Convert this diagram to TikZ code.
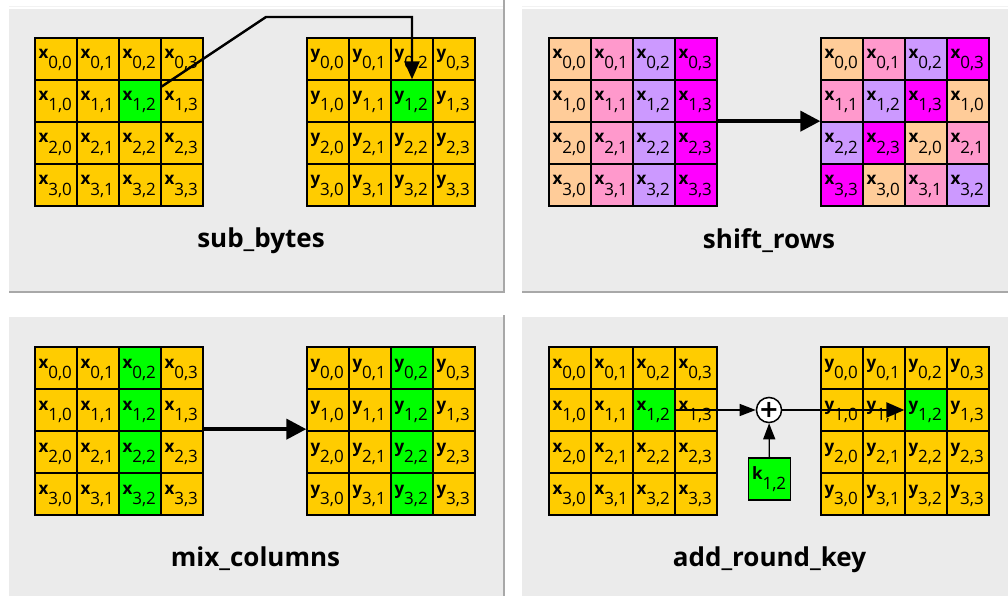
\documentclass[tikz,border=0pt]{standalone}
\usepackage{fontspec}
\setmainfont{Open Sans}
\newfontfamily\symfont{DejaVu Sans}
\usetikzlibrary{arrows.meta}
\definecolor{aesyellow}{HTML}{FFCC00}
\definecolor{aesgreen}{HTML}{00FF00}
\definecolor{sc0}{HTML}{FFCC99}
\definecolor{sc1}{HTML}{FF99CC}
\definecolor{sc2}{HTML}{CC99FF}
\definecolor{sc3}{HTML}{FF00FF}
\definecolor{panelbg}{HTML}{EBEBEB}
\definecolor{panelshadow}{HTML}{A8A8A8}
\definecolor{panelhi}{HTML}{F2F2F2}
\newcommand\celltext[2]{\raisebox{0pt}[0pt][0pt]{\hbox to 35pt{\bfseries #1\raisebox{-10pt}{\mdseries #2}\hfill}}}
\tikzset{
  cell/.style={draw=black, line width=1.3pt, minimum size=42pt, inner sep=0pt, fill=aesyellow,
    font=\fontsize{17}{19}\selectfont},
  paneltitle/.style={anchor=base, inner sep=0pt, font=\fontsize{26}{30}\selectfont\bfseries},
  panelfill/.style={fill=panelbg, draw=none},
  shadowline/.style={draw=panelshadow, line width=2pt},
  hiline/.style={draw=panelhi, line width=1pt},
  thinarrow/.style={draw=black, line width=1.3pt, -{Triangle[length=16pt,width=12pt]}},
  medarrow/.style={draw=black, line width=2.4pt, -{Triangle[length=18pt,width=15pt]}},
  bigarrow/.style={draw=black, line width=4pt, -{Triangle[length=20pt,width=20pt]}},
  xorstyle/.style={circle, draw=black, fill=white, line width=1.5pt, minimum size=25pt, inner sep=0pt,
    font=\fontsize{24}{24}\selectfont\symfont\bfseries},
}
\newcommand\mkgrid[5]{%
  \foreach \r in {0,...,3}{%
    \foreach \c in {0,...,3}{%
      \pgfmathtruncatemacro\hl{((#5==1) && (\r==1) && (\c==2)) || ((#5==2) && (\c==2)) ? 1 : 0}%
      \ifnum\hl=1 \def\cf{aesgreen}\else\def\cf{aesyellow}\fi
      \node[cell,fill=\cf] (#1-\r-\c) at ({#2+42*\c+21},{#3+42*\r+21}) {\celltext{#4}{\r,\c}};
    }%
  }%
}
\begin{document}
\begin{tikzpicture}[x=1pt,y=-1pt]
\useasboundingbox (0,0) rectangle (1008,596);
\fill[white] (0,0) rectangle (1008,596);
% panels
\path[panelfill] (9,9) rectangle (503,291);
\path[panelfill] (522,9) rectangle (1008,291);
\path[panelfill] (9,317) rectangle (503,596);
\path[panelfill] (522,317) rectangle (1008,596);
\path[hiline] (9,6.5) -- (503,6.5);
\path[hiline] (522,6.5) -- (1008,6.5);
\path[shadowline] (504,0) -- (504,293);
\path[shadowline] (9,292) -- (505,292);
\path[shadowline] (522,292) -- (1008,292);
\path[shadowline] (504,315) -- (504,596);

% sub_bytes
\mkgrid{tl-x}{35}{38}{x}{1}
\mkgrid{tl-y}{307}{38}{y}{1}
\coordinate (sbturn) at (266,17);
\draw[medarrow] (tl-x-1-2) -- (sbturn) -| (tl-y-1-2);
\node[paneltitle] (t-sub) at (261,247.5) {sub\_bytes};

% shift_rows
\foreach \r in {0,...,3}{
  \foreach \c in {0,...,3}{
    \node[cell,fill=sc\c] (tr-x-\r-\c) at ({549+42*\c+21},{38+42*\r+21}) {\celltext{x}{\r,\c}};
    \pgfmathtruncatemacro\src{mod(\c+\r,4)}
    \node[cell,fill=sc\src] (tr-y-\r-\c) at ({821+42*\c+21},{38+42*\r+21}) {\celltext{x}{\r,\src}};
  }
}
\draw[bigarrow] ([yshift=1.5pt]tr-x-1-3.south east) -- ([yshift=1.5pt]tr-y-1-0.south west);
\node[paneltitle] (t-shift) at (769,248) {shift\_rows};

% mix_columns
\mkgrid{bl-x}{35}{347}{x}{2}
\mkgrid{bl-y}{307}{347}{y}{2}
\draw[bigarrow] ([yshift=2.5pt]bl-x-1-3.south east) -- ([yshift=2.5pt]bl-y-1-0.south west);
\node[paneltitle] (t-mix) at (255.5,566.5) {mix\_columns};

% add_round_key
\mkgrid{br-x}{549}{347}{x}{1}
\mkgrid{br-y}{821}{347}{y}{1}
\node[xorstyle] (xor) at (769,410) {+};
\node[cell,fill=aesgreen] (key) at (769.5,479) {\celltext{k}{1,2}};
\draw[thinarrow] (br-x-1-2) -- (xor);
\draw[thinarrow] (key) -- (xor);
\draw[medarrow] (xor) -- (br-y-1-2);
\node[paneltitle] (t-ark) at (769.5,566.5) {add\_round\_key};
\end{tikzpicture}
\end{document}
